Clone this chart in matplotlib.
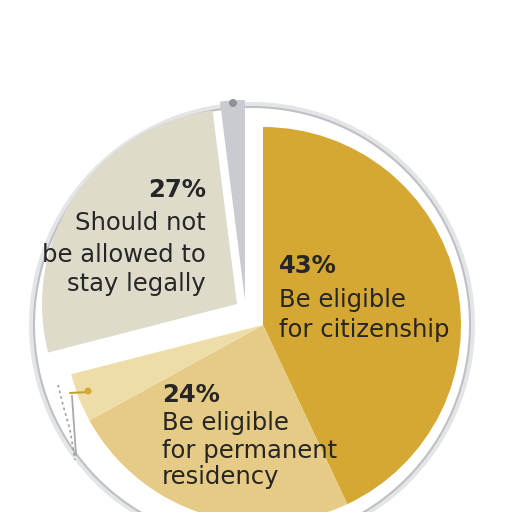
import matplotlib
matplotlib.use("Agg")
import matplotlib.pyplot as plt
from matplotlib.patches import Circle

# ---- data ----
categories = ["Be eligible for citizenship", "Be eligible for permanent residency",
              "Other", "Should not be allowed to stay legally", "Don't know"]
values = [43, 24, 4, 27, 2]
colors = ["#D4A833", "#E6CB86", "#EEDDA8", "#DEDBCB", "#C9CBD1"]

label_pcts = ["43%", "24%", "27%"]
label_lines = [["Be eligible", "for citizenship"],
               ["Be eligible", "for permanent", "residency"],
               ["Should not", "be allowed to", "stay legally"]]

H = 512
def Y(y):
    return H - y

fig = plt.figure(figsize=(5.12, 5.12), dpi=100)
ax = fig.add_axes([0, 0, 1, 1])

# outer rim (paper disc)
ax.add_patch(Circle((252, Y(325)), 219.5, facecolor="white", edgecolor="#e4e5e7", lw=5, zorder=0))
ax.add_patch(Circle((252, Y(325)), 218, facecolor="white", edgecolor="#bdc0c4", lw=1.5, zorder=0.5))

wedges, _ = ax.pie(values, colors=colors, startangle=90, counterclock=False,
                   radius=198, center=(263, Y(325)), wedgeprops=dict(linewidth=0))
for w in wedges:
    w.set_zorder(2)
# separated slices
wedges[3].set_center((237, Y(304)))
wedges[3].set_radius(195)
wedges[4].set_center((245, Y(300)))
wedges[4].set_radius(200)

# decorations
ax.add_patch(Circle((233, Y(103)), 4, facecolor="#8e9197", edgecolor="none", zorder=3))
ax.plot([70, 88], [Y(393), Y(392)], color="#c9a030", lw=1.5, zorder=3, solid_capstyle="round")
ax.add_patch(Circle((88, Y(391)), 3.5, facecolor="#d4a833", edgecolor="none", zorder=3))
ax.plot([72, 76], [Y(396), Y(455)], color="#a8a9ab", lw=1.3, zorder=3)
ax.plot([58, 63, 70, 75], [Y(385), Y(405), Y(430), Y(460)], color="#9a9ca0", lw=1.2,
        ls=(0, (1.5, 2)), zorder=3)

fs = 17.5
tc = "#262626"
fam = "DejaVu Sans"

# 43% label
ax.text(279, Y(273), label_pcts[0], fontsize=fs, fontweight="bold", color=tc, family=fam,
        ha="left", va="baseline", zorder=5)
for ln, yb in zip(label_lines[0], [307, 337]):
    ax.text(279, Y(yb), ln, fontsize=fs, color=tc, family=fam, ha="left", va="baseline", zorder=5)

# 24% label
ax.text(162, Y(402), label_pcts[1], fontsize=fs, fontweight="bold", color=tc, family=fam,
        ha="left", va="baseline", zorder=5)
for ln, yb in zip(label_lines[1], [430, 458, 484]):
    ax.text(162, Y(yb), ln, fontsize=fs, color=tc, family=fam, ha="left", va="baseline", zorder=5)

# 27% label
ax.text(206, Y(197), label_pcts[2], fontsize=fs, fontweight="bold", color=tc, family=fam,
        ha="right", va="baseline", zorder=5)
for ln, yb in zip(label_lines[2], [230, 262, 291]):
    ax.text(206, Y(yb), ln, fontsize=fs, color=tc, family=fam, ha="right", va="baseline", zorder=5)

ax.set_xlim(0, 512)
ax.set_ylim(0, 512)
ax.set_aspect("equal")
ax.axis("off")
fig.savefig("out.png", dpi=100, facecolor="white")
